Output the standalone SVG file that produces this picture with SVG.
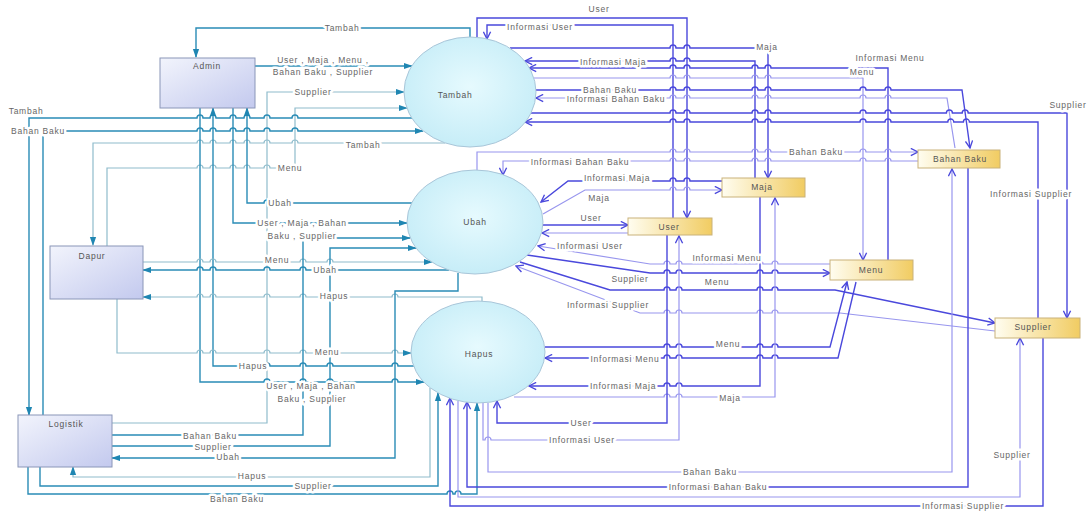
<svg xmlns="http://www.w3.org/2000/svg" width="1092" height="514" viewBox="0 0 1092 514">
<style>
.t{fill:none;stroke:#2a8cb6;stroke-width:1.4}
.tl{fill:none;stroke:#8fbccc;stroke-width:1.2}
.b{fill:none;stroke:#4a48dc;stroke-width:1.4}
.bl{fill:none;stroke:#9896ee;stroke-width:1.2}
.lb{font-family:"Liberation Sans",Arial,sans-serif;font-size:8.5px;letter-spacing:0.75px;fill:#666;text-anchor:middle;dominant-baseline:central;paint-order:stroke;stroke:#fff;stroke-width:5px;stroke-linejoin:round}
.nl{font-family:"Liberation Sans",Arial,sans-serif;font-size:8.5px;letter-spacing:0.75px;fill:#555;text-anchor:middle;dominant-baseline:central}
.box{fill:url(#gBox);stroke:#8a96b8;stroke-width:1}
.ell{fill:url(#gEll);stroke:#a9c6d9;stroke-width:1}
.ds{fill:url(#gDs);stroke:#c9b27a;stroke-width:1}
</style>
<defs>
<linearGradient id="gBox" x1="0" y1="0" x2="1" y2="1"><stop offset="0" stop-color="#f2f4fc"/><stop offset="1" stop-color="#c3c9ee"/></linearGradient>
<radialGradient id="gEll" cx="0.5" cy="0.45" r="0.6"><stop offset="0" stop-color="#e6fafe"/><stop offset="1" stop-color="#c4ecf7"/></radialGradient>
<linearGradient id="gDs" x1="0" y1="0" x2="1" y2="0"><stop offset="0" stop-color="#fffdf0"/><stop offset="1" stop-color="#f1cc62"/></linearGradient>
<marker id="at" viewBox="0 0 10 10" refX="9" refY="5" markerWidth="9" markerHeight="9" markerUnits="userSpaceOnUse" orient="auto"><path d="M0,1.5 L10,5 L0,8.5 z" fill="#1f86b2"/></marker>
<marker id="ab" viewBox="0 0 10 10" refX="9" refY="5" markerWidth="9" markerHeight="9" markerUnits="userSpaceOnUse" orient="auto"><path d="M1,1 L9,5 L1,9" fill="none" stroke="#4a48dc" stroke-width="1.5"/></marker>
</defs>
<rect width="1092" height="514" fill="#fff"/>
<g id="connectors">
<path class="t" d="M470,38 V28 H196 V57" marker-end="url(#at)"/>
<path class="t" d="M255,66 H412" marker-end="url(#at)"/>
<path class="tl" d="M112,423 H267 V92 H404" marker-end="url(#at)"/>
<path class="tl" d="M107,246 V168 H197 a3,3 0 0 1 6,0 H210 a3,3 0 0 1 6,0 H230 a3,3 0 0 1 6,0 H244 a3,3 0 0 1 6,0 H264 a3,3 0 0 1 6,0 H295 V108 H407" marker-end="url(#at)"/>
<path class="t" d="M412,118 H298 a3,3 0 0 0 -6,0 H270 a3,3 0 0 0 -6,0 H250 a3,3 0 0 0 -6,0 H236 a3,3 0 0 0 -6,0 H216 a3,3 0 0 0 -6,0 H203 a3,3 0 0 0 -6,0 H29 V415" marker-end="url(#at)"/>
<path class="t" d="M43,415 V131 H197 a3,3 0 0 1 6,0 H210 a3,3 0 0 1 6,0 H230 a3,3 0 0 1 6,0 H244 a3,3 0 0 1 6,0 H264 a3,3 0 0 1 6,0 H292 a3,3 0 0 1 6,0 H423" marker-end="url(#at)"/>
<path class="tl" d="M445,143 H298 a3,3 0 0 0 -6,0 H270 a3,3 0 0 0 -6,0 H250 a3,3 0 0 0 -6,0 H236 a3,3 0 0 0 -6,0 H216 a3,3 0 0 0 -6,0 H203 a3,3 0 0 0 -6,0 H93 V245" marker-end="url(#at)"/>
<path class="t" d="M233,108 V223 H264 a3,3 0 0 1 6,0 H407" marker-end="url(#at)"/>
<path class="t" d="M412,203 H270 a3,3 0 0 0 -6,0 H247 V108" marker-end="url(#at)"/>
<path class="t" d="M414,366 H398 a3,3 0 0 0 -6,0 H333 a3,3 0 0 0 -6,0 H306 a3,3 0 0 0 -6,0 H270 a3,3 0 0 0 -6,0 H213 V108" marker-end="url(#at)"/>
<path class="t" d="M200,108 V382 H264 a3,3 0 0 1 6,0 H300 a3,3 0 0 1 6,0 H327 a3,3 0 0 1 6,0 H392 a3,3 0 0 1 6,0 H424" marker-end="url(#at)"/>
<path class="tl" d="M117,299 V353 H197 a3,3 0 0 1 6,0 H210 a3,3 0 0 1 6,0 H264 a3,3 0 0 1 6,0 H300 a3,3 0 0 1 6,0 H327 a3,3 0 0 1 6,0 H392 a3,3 0 0 1 6,0 H411" marker-end="url(#at)"/>
<path class="tl" d="M143,262 H197 a3,3 0 0 1 6,0 H210 a3,3 0 0 1 6,0 H264 a3,3 0 0 1 6,0 H300 a3,3 0 0 1 6,0 H327 a3,3 0 0 1 6,0 H432" marker-end="url(#at)"/>
<path class="t" d="M449,270 H333 a3,3 0 0 0 -6,0 H306 a3,3 0 0 0 -6,0 H270 a3,3 0 0 0 -6,0 H216 a3,3 0 0 0 -6,0 H203 a3,3 0 0 0 -6,0 H143" marker-end="url(#at)"/>
<path class="tl" d="M482,301 V297 H398 a3,3 0 0 0 -6,0 H333 a3,3 0 0 0 -6,0 H306 a3,3 0 0 0 -6,0 H270 a3,3 0 0 0 -6,0 H216 a3,3 0 0 0 -6,0 H203 a3,3 0 0 0 -6,0 H143" marker-end="url(#at)"/>
<path class="t" d="M112,435 H303 V238 H410" marker-end="url(#at)"/>
<path class="t" d="M112,446 H330 V248 H416" marker-end="url(#at)"/>
<path class="t" d="M458,273 V291 H395 V458 H112" marker-end="url(#at)"/>
<path class="tl" d="M430,388 V477 H73 V467" marker-end="url(#at)"/>
<path class="t" d="M40,467 V486 H438 V393" marker-end="url(#at)"/>
<path class="t" d="M28,467 V494 H447 a3,3 0 0 1 6,0 H455 a3,3 0 0 1 6,0 H477 V403" marker-end="url(#at)"/>
<path class="b" d="M477,37 V18 H687 V218" marker-end="url(#ab)"/>
<path class="b" d="M673,218 V25 H487 V39" marker-end="url(#ab)"/>
<path class="b" d="M510,48 H670 a3,3 0 0 1 6,0 H684 a3,3 0 0 1 6,0 H768 V178" marker-end="url(#ab)"/>
<path class="b" d="M755,178 V61 H690 a3,3 0 0 0 -6,0 H676 a3,3 0 0 0 -6,0 H525" marker-end="url(#ab)"/>
<path class="b" d="M888,260 V68 H771 a3,3 0 0 0 -6,0 H758 a3,3 0 0 0 -6,0 H690 a3,3 0 0 0 -6,0 H676 a3,3 0 0 0 -6,0 H529" marker-end="url(#ab)"/>
<path class="bl" d="M534,78 H670 a3,3 0 0 1 6,0 H684 a3,3 0 0 1 6,0 H752 a3,3 0 0 1 6,0 H765 a3,3 0 0 1 6,0 H863 V260" marker-end="url(#ab)"/>
<path class="b" d="M536,90 H670 a3,3 0 0 1 6,0 H684 a3,3 0 0 1 6,0 H752 a3,3 0 0 1 6,0 H765 a3,3 0 0 1 6,0 H860 a3,3 0 0 1 6,0 H885 a3,3 0 0 1 6,0 H962 L970,148" marker-end="url(#ab)"/>
<path class="bl" d="M955,148 L947,98 H891 a3,3 0 0 0 -6,0 H866 a3,3 0 0 0 -6,0 H771 a3,3 0 0 0 -6,0 H758 a3,3 0 0 0 -6,0 H690 a3,3 0 0 0 -6,0 H676 a3,3 0 0 0 -6,0 H536" marker-end="url(#ab)"/>
<path class="b" d="M531,113 H670 a3,3 0 0 1 6,0 H684 a3,3 0 0 1 6,0 H752 a3,3 0 0 1 6,0 H765 a3,3 0 0 1 6,0 H860 a3,3 0 0 1 6,0 H885 a3,3 0 0 1 6,0 H946.4 a3,3 0 0 1 6,0 H962.2 a3,3 0 0 1 6,0 H1067 V318" marker-end="url(#ab)"/>
<path class="b" d="M1038,318 V122 H969.4 a3,3 0 0 0 -6,0 H953.8 a3,3 0 0 0 -6,0 H891 a3,3 0 0 0 -6,0 H866 a3,3 0 0 0 -6,0 H771 a3,3 0 0 0 -6,0 H758 a3,3 0 0 0 -6,0 H690 a3,3 0 0 0 -6,0 H676 a3,3 0 0 0 -6,0 H525" marker-end="url(#ab)"/>
<path class="bl" d="M477,170 V152 H670 a3,3 0 0 1 6,0 H684 a3,3 0 0 1 6,0 H752 a3,3 0 0 1 6,0 H765 a3,3 0 0 1 6,0 H860 a3,3 0 0 1 6,0 H885 a3,3 0 0 1 6,0 H918" marker-end="url(#ab)"/>
<path class="bl" d="M918,161 H891 a3,3 0 0 0 -6,0 H866 a3,3 0 0 0 -6,0 H771 a3,3 0 0 0 -6,0 H758 a3,3 0 0 0 -6,0 H690 a3,3 0 0 0 -6,0 H676 a3,3 0 0 0 -6,0 H503 V175" marker-end="url(#ab)"/>
<path class="b" d="M722,181 H690 a3,3 0 0 0 -6,0 H676 a3,3 0 0 0 -6,0 H568 L541,202" marker-end="url(#ab)"/>
<path class="bl" d="M543,214 L585,190 H670 a3,3 0 0 1 6,0 H684 a3,3 0 0 1 6,0 H722" marker-end="url(#ab)"/>
<path class="b" d="M543,225 H628" marker-end="url(#ab)"/>
<path class="bl" d="M628,233 H542" marker-end="url(#ab)"/>
<path class="bl" d="M830,264 H778 a3,3 0 0 0 -6,0 H763 a3,3 0 0 0 -6,0 H682 a3,3 0 0 0 -6,0 H670 a3,3 0 0 0 -6,0 H650 L538,246" marker-end="url(#ab)"/>
<path class="b" d="M527,255 L650,273 H664 a3,3 0 0 1 6,0 H676 a3,3 0 0 1 6,0 H757 a3,3 0 0 1 6,0 H772 a3,3 0 0 1 6,0 H830" marker-end="url(#ab)"/>
<path class="b" d="M520,262 L610,290 H664 a3,3 0 0 1 6,0 H676 a3,3 0 0 1 6,0 H757 a3,3 0 0 1 6,0 H772 a3,3 0 0 1 6,0 H835 L995,323" marker-end="url(#ab)"/>
<path class="bl" d="M995,331 L840,313 H778 a3,3 0 0 0 -6,0 H763 a3,3 0 0 0 -6,0 H682 a3,3 0 0 0 -6,0 H670 a3,3 0 0 0 -6,0 H640 L516,266" marker-end="url(#ab)"/>
<path class="b" d="M545,347 H664 a3,3 0 0 1 6,0 H676 a3,3 0 0 1 6,0 H757 a3,3 0 0 1 6,0 H772 a3,3 0 0 1 6,0 H830 L847,282" marker-end="url(#ab)"/>
<path class="b" d="M856,282 L838,358 H778 a3,3 0 0 0 -6,0 H763 a3,3 0 0 0 -6,0 H682 a3,3 0 0 0 -6,0 H670 a3,3 0 0 0 -6,0 H545" marker-end="url(#ab)"/>
<path class="b" d="M760,197 V386 H682 a3,3 0 0 0 -6,0 H670 a3,3 0 0 0 -6,0 H529" marker-end="url(#ab)"/>
<path class="bl" d="M514,397 H664 a3,3 0 0 1 6,0 H676 a3,3 0 0 1 6,0 H775 V198" marker-end="url(#ab)"/>
<path class="b" d="M667,235 V423 H497 V401" marker-end="url(#ab)"/>
<path class="bl" d="M483,403 V440 H485 a3,3 0 0 1 6,0 H679 V236" marker-end="url(#ab)"/>
<path class="bl" d="M488,403 V472 H952 V169" marker-end="url(#ab)"/>
<path class="b" d="M968,168 V487 H467 V402" marker-end="url(#ab)"/>
<path class="bl" d="M458,401 V497 H1020 V338" marker-end="url(#ab)"/>
<path class="b" d="M1043,338 V506 H450 V398" marker-end="url(#ab)"/>
</g>
<g id="node-admin"><rect class="box" x="160" y="58" width="95" height="50"/><text class="nl" x="207" y="66">Admin</text></g>
<g id="node-dapur"><rect class="box" x="50" y="246" width="93" height="53"/><text class="nl" x="92" y="256">Dapur</text></g>
<g id="node-logistik"><rect class="box" x="18" y="415" width="94" height="52"/><text class="nl" x="66" y="424">Logistik</text></g>
<g id="node-tambah"><ellipse class="ell" cx="470" cy="92" rx="66" ry="55"/><text class="nl" x="455" y="95">Tambah</text></g>
<g id="node-ubah"><ellipse class="ell" cx="475" cy="222" rx="68" ry="52"/><text class="nl" x="475" y="222">Ubah</text></g>
<g id="node-hapus"><ellipse class="ell" cx="478" cy="352" rx="67" ry="51"/><text class="nl" x="479" y="354">Hapus</text></g>
<g id="node-bahanbaku"><rect class="ds" x="918" y="150" width="82" height="18"/><text class="nl" x="960" y="159">Bahan Baku</text></g>
<g id="node-maja"><rect class="ds" x="722" y="178" width="83" height="19"/><text class="nl" x="762" y="187">Maja</text></g>
<g id="node-user"><rect class="ds" x="628" y="218" width="84" height="17"/><text class="nl" x="669" y="227">User</text></g>
<g id="node-menu"><rect class="ds" x="830" y="260" width="83" height="20"/><text class="nl" x="871" y="270">Menu</text></g>
<g id="node-supplier"><rect class="ds" x="995" y="318" width="85" height="20"/><text class="nl" x="1033" y="327">Supplier</text></g>
<g id="labels">
<text class="lb" x="342" y="28">Tambah</text>
<text class="lb" x="323" y="60">User , Maja , Menu ,</text>
<text class="lb" x="323" y="72">Bahan Baku , Supplier</text>
<text class="lb" x="313" y="92">Supplier</text>
<text class="lb" x="26" y="111">Tambah</text>
<text class="lb" x="38" y="131">Bahan Baku</text>
<text class="lb" x="363" y="145">Tambah</text>
<text class="lb" x="290" y="168">Menu</text>
<text class="lb" x="280" y="203">Ubah</text>
<text class="lb" x="302" y="223">User , Maja , Bahan</text>
<text class="lb" x="302" y="236">Baku , Supplier</text>
<text class="lb" x="277" y="260">Menu</text>
<text class="lb" x="325" y="270">Ubah</text>
<text class="lb" x="334" y="296">Hapus</text>
<text class="lb" x="327" y="352">Menu</text>
<text class="lb" x="253" y="366">Hapus</text>
<text class="lb" x="311" y="386">User , Maja , Bahan</text>
<text class="lb" x="312" y="399">Baku , Supplier</text>
<text class="lb" x="210" y="436">Bahan Baku</text>
<text class="lb" x="213" y="447">Supplier</text>
<text class="lb" x="228" y="457">Ubah</text>
<text class="lb" x="252" y="476">Hapus</text>
<text class="lb" x="313" y="486">Supplier</text>
<text class="lb" x="237" y="499">Bahan Baku</text>
<text class="lb" x="599" y="9">User</text>
<text class="lb" x="540" y="27">Informasi User</text>
<text class="lb" x="767" y="47">Maja</text>
<text class="lb" x="613" y="62">Informasi Maja</text>
<text class="lb" x="890" y="58">Informasi Menu</text>
<text class="lb" x="862" y="72">Menu</text>
<text class="lb" x="610" y="90">Bahan Baku</text>
<text class="lb" x="616" y="99">Informasi Bahan Baku</text>
<text class="lb" x="1068" y="105">Supplier</text>
<text class="lb" x="816" y="152">Bahan Baku</text>
<text class="lb" x="580" y="162">Informasi Bahan Baku</text>
<text class="lb" x="617" y="178">Informasi Maja</text>
<text class="lb" x="599" y="198">Maja</text>
<text class="lb" x="591" y="218">User</text>
<text class="lb" x="590" y="246">Informasi User</text>
<text class="lb" x="727" y="258">Informasi Menu</text>
<text class="lb" x="630" y="279">Supplier</text>
<text class="lb" x="717" y="282">Menu</text>
<text class="lb" x="608" y="305">Informasi Supplier</text>
<text class="lb" x="1031" y="194">Informasi Supplier</text>
<text class="lb" x="728" y="344">Menu</text>
<text class="lb" x="625" y="359">Informasi Menu</text>
<text class="lb" x="623" y="386">Informasi Maja</text>
<text class="lb" x="730" y="398">Maja</text>
<text class="lb" x="581" y="423">User</text>
<text class="lb" x="582" y="440">Informasi User</text>
<text class="lb" x="710" y="472">Bahan Baku</text>
<text class="lb" x="718" y="487">Informasi Bahan Baku</text>
<text class="lb" x="1012" y="455">Supplier</text>
<text class="lb" x="963" y="506">Informasi Supplier</text>
</g>
</svg>
